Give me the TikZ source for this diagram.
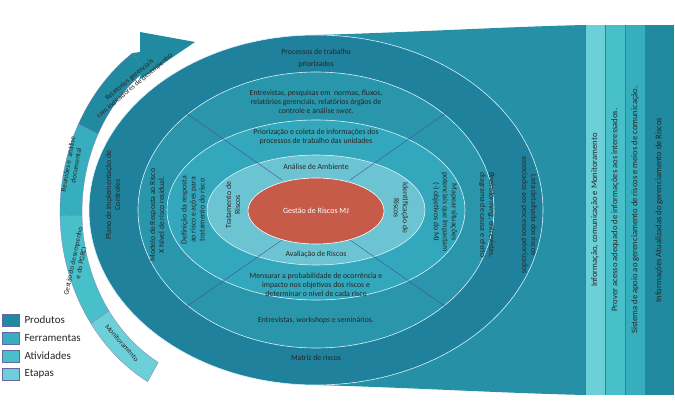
\documentclass[tikz,border=0pt]{standalone}
\usepackage{fontspec}
\setmainfont{Carlito}
\begin{document}
\begin{tikzpicture}[x=1pt,y=1pt,
  t/.style={font=\fontsize{7.8}{9}\selectfont, text=black!85, align=center, inner sep=1pt},
  bt/.style={font=\fontsize{8.6}{10}\selectfont, text=black!85, rotate=90, inner sep=1pt},
  lg/.style={font=\fontsize{11}{12}\selectfont, text=black!85, anchor=west},
  ring/.style={draw=white!85!cyan, line width=0.6pt},
  dl/.style={draw=blue!45!black!70, line width=0.4pt}]
\definecolor{c1}{HTML}{1F819B}\definecolor{c2}{HTML}{2996AC}
\definecolor{c3}{HTML}{33A7BB}\definecolor{c5}{HTML}{6CC4D2}\definecolor{cr}{HTML}{C75B49}
\definecolor{fn}{HTML}{2590A6}
\definecolor{b1}{HTML}{6DD0D9}\definecolor{b2}{HTML}{48C0CA}
\definecolor{b3}{HTML}{36AEBD}\definecolor{b4}{HTML}{1F8AA0}
\useasboundingbox (0,-420) rectangle (675,0);
\fill[white] (0,-420) rectangle (675,0);
% funnel
\fill[fn] (316,-35) .. controls (420,-32) and (500,-27) .. (585,-25) -- (585,-395) .. controls (500,-393) and (420,-388) .. (316,-385) -- cycle;
\fill[b1] (585,-25) rectangle (605,-395);
\fill[b2] (605,-25) rectangle (625,-395);
\fill[b3] (625,-25) rectangle (645,-395);
\fill[b4] (645,-25) rectangle (673,-395);
\foreach \x in {585,605,625,645,673} \draw[blue!40!black!60,line width=0.4pt] (\x,-25) -- (\x,-395);
\node[bt] (bar1) at (595,-210) {Informação, comunicação e Monitoramento};
\node[bt] (bar2) at (615,-210) {Prover acesso adequado de informações aos interessados.};
\node[bt] (bar3) at (635,-210) {Sistema de apoio ao gerenciamento de riscos e meios de comunicação.};
\node[bt] (bar4) at (659,-210) {Informações Atualizadas do gerenciamento de Riscos};
% ellipses
\fill[c1,ring] (316,-210) ellipse [x radius=227,y radius=175];
\fill[c2,ring] (316,-210) ellipse [x radius=178,y radius=138];
\fill[c3,ring] (316,-210) ellipse [x radius=149,y radius=90];
\fill[c5,ring] (316,-210) ellipse [x radius=109,y radius=55];
\draw[dl] (282,-180) -- (186,-113);
\draw[dl] (350,-180) -- (446,-113);
\draw[dl] (282,-240) -- (186,-307);
\draw[dl] (350,-240) -- (446,-307);
\fill[cr,draw=white,line width=0.6pt] (316,-211) ellipse [x radius=68,y radius=33];
\node[t,text=white,font=\fontsize{8}{9}\selectfont] (core) at (316,-211) {Gestão de Riscos MJ};
% texts
\node[t] (n1) at (316,-58) {Processos de trabalho\\[3pt]priorizados};
\node[t] (n2) at (316,-102) {Entrevistas, pesquisas em\ \ normas, fluxos,\\relatórios gerenciais, relatórios órgãos de\\controle e análise \textit{swot}.};
\node[t] (n3) at (316,-137) {Priorização e coleta de informações dos\\processos de trabalho das unidades};
\node[t] (n4) at (316,-167) {Análise de Ambiente};
\node[t] (n5) at (316,-254) {Avaliação de Riscos};
\node[t] (n6) at (316,-285) {Mensurar a probabilidade de ocorrência e\\impacto nos objetivos dos riscos e\\determinar o nível de cada risco};
\node[t] (n7) at (316,-320) {Entrevistas, \textit{workshops} e seminários.};
\node[t] (n8) at (316,-358) {Matriz de riscos};
\node[t,rotate=90] (l1) at (113,-195) {Plano de implementação de\\Controles};
\node[t,rotate=90] (l2) at (157,-215) {Modelo de Resposta ao Risco\\X Nível de risco residual.};
\node[t,rotate=90] (l3) at (193,-210) {Definição da resposta\\ao risco e ações para\\tratamento do risco};
\node[t,rotate=90] (l4) at (233,-205) {Tratamento de\\Riscos};
\node[t,rotate=-90] (r1) at (401,-208) {Identificação de\\Riscos};
\node[t,rotate=-90] (r2) at (445,-212) {Mapear situações\\potenciais que impactam\\(-) objetivos do MJ};
\node[t,rotate=-90] (r3) at (487,-215) {\textit{Brainstorming}, entrevistas,\\diagrama de causa e efeito};
\node[t,rotate=-90] (r4) at (529,-215) {Lista detalhada dos riscos\\associados aos processos priorizados};
% left arc arrow
\foreach \a/\b/\c in {215/241/b1,181/215/b2,153/181/b3,125/153/b4}{
  \fill[\c,draw=blue!40!black!50,line width=0.3pt] plot[domain=\a:\b,samples=20] ({230+148*cos(\x)},{-212+172*sin(\x)})
     -- plot[domain=\b:\a,samples=20] ({230+170*cos(\x)},{-212+194*sin(\x)}) -- cycle;}
\fill[b4] ({230+148*cos(125)},{-212+172*sin(125)}) -- ({230+170*cos(125)},{-212+194*sin(125)})
   -- (140,-52) -- (140,-32) -- (195,-42) -- (139,-80) -- (143,-68) -- cycle;
\node[t,rotate=40,font=\fontsize{7.2}{8}\selectfont] (a1) at (132,-83) {Relatórios gerenciais\\com indicadores de desempenho};
\node[t,rotate=80,font=\fontsize{7.2}{8}\selectfont] (a2) at (72,-165) {Reuniões e\ \ análise\\documental};
\node[t,rotate=78,font=\fontsize{7.2}{8}\selectfont] (a3) at (77,-262) {Gestão do desempenho\\e do PGRCI};
\node[t,rotate=-48,font=\fontsize{7.2}{8}\selectfont] (a4) at (122,-343) {Monitoramento};
% legend
\foreach \y/\c/\s [count=\i] in {320/b4/Produtos,338/b3/Ferramentas,356/b2/Atividades,374/b1/Etapas}{
  \fill[\c,draw=blue!40!black!60,line width=0.3pt] (2,-\y-6) rectangle (19,-\y+6);
  \node[lg] (leg\i) at (21,-\y) {\s};}
\end{tikzpicture}
\end{document}
